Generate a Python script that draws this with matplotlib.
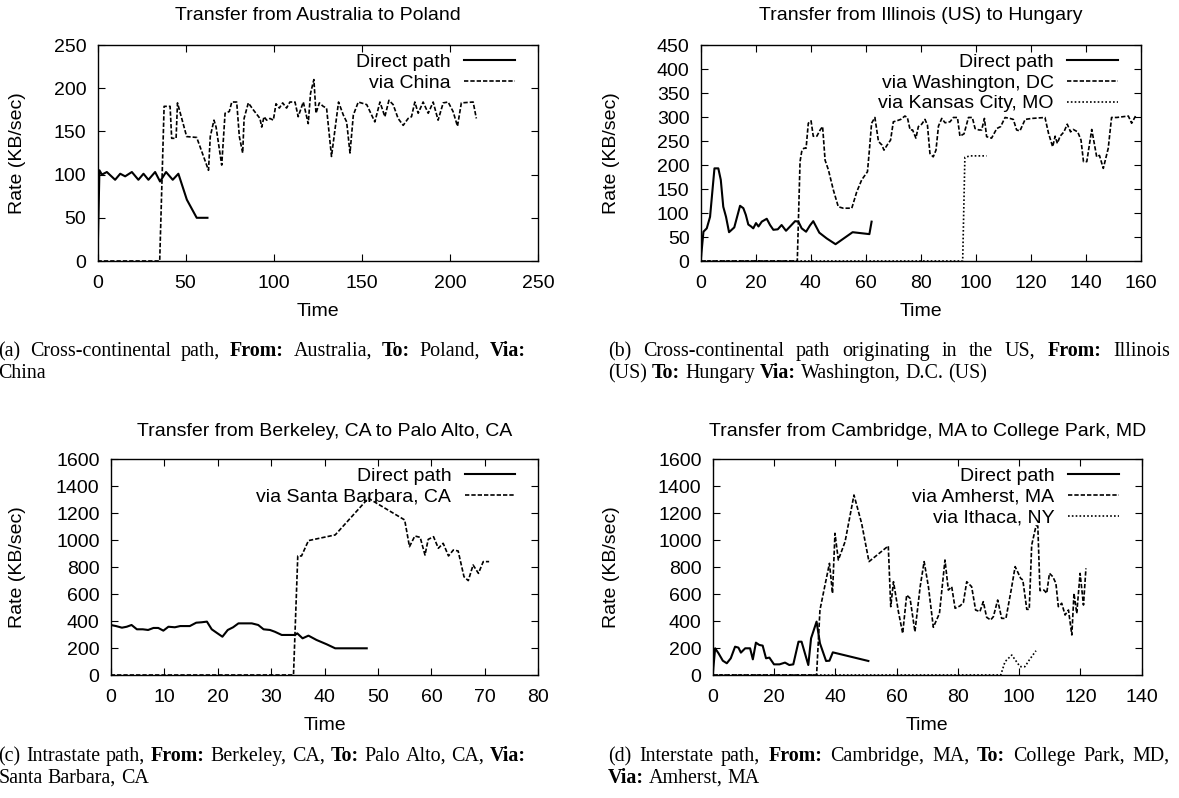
import matplotlib
matplotlib.use('Agg')
import matplotlib.pyplot as plt
from matplotlib.transforms import IdentityTransform

# ---------------- data ----------------
# (a) Australia -> Poland
a_direct_t = [0, 1.1, 2.5, 5.3, 10, 12.9, 15.7, 19.5, 23.2, 26.1, 28.9, 32.7, 35.5, 38.9, 42.7, 45.9, 50.7, 56.3, 62.4]
a_direct_r = [0, 105, 100, 103, 94, 101, 98, 103, 94, 101, 94, 103, 92, 103, 94, 101, 71, 50, 50]
a_china_t = [0, 35.3, 37.8, 41.2, 42.1, 44.6, 45.4, 50.6, 56.3, 63.0, 64.0, 66.1, 67.3, 70.5, 72.4, 74.8, 76.2, 79.0,
             80.5, 82.4, 83.2, 85.6, 88.4, 92.2, 93.2, 94.5, 96.0, 97.9, 99.8, 101.3, 103.2, 105.1, 107.3, 109.2,
             112.1, 113.9, 116.8, 119.6, 120.9, 122.8, 124.0, 125.9, 128.1, 130.0, 132.8, 136.8, 139.5, 141.4,
             143.3, 145.2, 148.0, 152.8, 157.4, 160.3, 163.1, 165.4, 167.8, 170.6, 173.5, 176.3, 178.2, 180.1,
             182.0, 184.8, 187.7, 190.5, 193.3, 196.2, 199.0, 201.8, 204.3, 206.5, 213.2, 215.0]
a_china_r = [0, 0, 179, 179, 142, 142, 183, 144, 143, 105, 144, 163, 155, 111, 171, 173, 184, 184,
             144, 125, 165, 183, 175, 165, 155, 167, 163, 165, 163, 182, 177, 183, 177, 184,
             184, 167, 184, 159, 194, 210, 171, 183, 179, 177, 121, 184, 169, 161,
             125, 169, 184, 181, 161, 184, 167, 186, 181, 165, 157, 165, 167, 184,
             171, 184, 171, 184, 163, 183, 184, 173, 156, 183, 184, 165]

# (b) Illinois -> Hungary
b_direct_t = [0, 1.0, 2.2, 3.4, 5.0, 6.4, 7.3, 8.2, 9.2, 10.3, 12.2, 14.3, 15.5, 16.4, 17.3, 18.3, 19.1, 20.1,
              21.0, 22.2, 24.0, 25.2, 26.4, 28.0, 29.4, 31.0, 32.5, 34.3, 35.5, 36.7, 38.3, 39.7, 40.9, 43.1,
              45.8, 49.0, 55.2, 61.3, 62.1]
b_direct_r = [0, 61, 68, 92, 193, 193, 169, 113, 92, 60, 70, 115, 110, 96, 76, 72, 68, 79,
              72, 82, 88, 75, 65, 66, 75, 63, 72, 83, 82, 68, 61, 74, 83, 59,
              47, 35, 60, 56, 82]
b_dc_t = [0, 35.1, 36.1, 36.7, 37.5, 38.3, 39.1, 40.1, 40.9, 42.2, 43.4, 44.3, 45.2, 46.4, 48.2, 50.0, 51.8,
          54.9, 56.7, 58.5, 60.6, 61.3, 62.1, 63.3, 64.6, 65.8, 66.6, 67.8, 69.0, 70.0, 71.2, 72.7, 74.2,
          75.1, 76.1, 77.0, 78.2, 79.1, 80.3, 81.5, 82.4, 83.3, 84.5, 85.5, 86.4, 87.6, 88.8, 90.6, 91.8,
          93.3, 94.2, 95.7, 97.3, 98.7, 99.7, 101.1, 102.1, 103.1, 103.9, 105.7, 107.6, 109.0, 110.6, 112.4,
          113.6, 114.8, 116.0, 117.9, 120.3, 125.1, 126.4, 127.9, 128.8, 129.6, 130.6, 132.0, 133.2, 134.4,
          135.4, 137.0, 138.2, 139.1, 140.3, 142.1, 143.9, 144.9, 146.3, 148.1, 149.3, 151.2, 155.4, 156.6, 158.2]
b_dc_r = [0, 0, 207, 228, 235, 235, 287, 292, 260, 260, 273, 280, 210, 190, 148, 113, 110,
          110, 144, 169, 186, 231, 287, 299, 249, 242, 231, 242, 252, 290, 292, 295, 302,
          299, 273, 273, 256, 280, 285, 295, 283, 224, 217, 231, 281, 297, 288, 290, 299,
          299, 260, 265, 299, 299, 276, 273, 273, 297, 259, 256, 276, 280, 299, 297,
          295, 273, 271, 295, 297, 299, 266, 238, 260, 245, 260, 269, 285, 269,
          274, 269, 252, 207, 207, 274, 217, 220, 193, 235, 299, 299, 302, 287, 304]
b_kc_t = [0, 95.2, 96.0, 97.9, 103.9]
b_kc_r = [0, 0, 216, 219, 219]

# (c) Berkeley -> Palo Alto
c_direct_t = [0, 1.0, 2.1, 3.0, 3.9, 4.9, 6.0, 7.0, 8.0, 8.9, 9.85, 10.8, 12.0, 13.0, 13.9, 14.8, 16.0, 17.0,
              18.0, 18.9, 19.8, 20.9, 21.9, 22.9, 23.9, 25.1, 26.4, 27.6, 28.6, 29.8, 30.7, 32.0, 33.2, 34.5,
              34.9, 35.9, 37.0, 38.5, 40.4, 42.0, 44.8, 47.9]
c_direct_r = [371, 363, 351, 358, 371, 339, 339, 334, 349, 349, 329, 358, 354, 363, 363, 363, 388, 391,
              396, 339, 314, 284, 334, 354, 383, 383, 383, 371, 339, 334, 321, 297, 297, 297,
              309, 272, 292, 260, 228, 198, 198, 198]
c_sb_t = [0, 34.2, 35.0, 35.7, 37.0, 42.0, 48.2, 55.0, 55.9, 56.9, 57.9, 58.8, 59.4, 60.4, 61.3, 62.2,
          63.2, 64.1, 65.0, 66.1, 66.9, 67.8, 68.8, 69.7, 70.8]
c_sb_r = [0, 0, 883, 883, 997, 1039, 1311, 1150, 952, 1031, 1021, 890, 1006, 1026, 940, 977,
          883, 927, 920, 729, 700, 816, 754, 841, 841]

# (d) Cambridge -> College Park
d_direct_t = [0, 0.8, 1.9, 3.3, 4.6, 5.9, 7.3, 8.4, 9.2, 10.6, 12.2, 13.1, 14.1, 15.2, 16.3, 17.4, 18.5, 20.0,
              21.8, 23.6, 25.0, 26.3, 28.0, 29.0, 31.2, 32.1, 33.9, 35.0, 37.0, 38.1, 39.2, 50.8]
d_direct_r = [0, 198, 161, 106, 87, 124, 210, 203, 166, 198, 198, 116, 240, 223, 218, 124, 129, 79,
              79, 92, 74, 79, 247, 247, 74, 272, 396, 235, 104, 106, 168, 104]
d_amh_t = [0, 33.9, 35.0, 36.1, 38.1, 39.1, 39.9, 41.0, 43.2, 46.1, 48.6, 51.0, 57.3, 58.1, 59.0, 60.6, 62.0,
           63.3, 64.4, 66.0, 67.7, 69.0, 70.4, 72.0, 74.0, 75.8, 76.9, 78.0, 79.1, 80.7, 81.8, 82.9, 84.5,
           85.8, 87.2, 88.3, 89.4, 90.7, 91.6, 93.0, 94.3, 95.7, 97.4, 98.7, 100.5, 101.2, 102.5, 103.3,
           104.1, 105.5, 106.1, 106.8, 108.1, 109.0, 109.9, 111.0, 112.0, 112.8, 113.9, 115.0, 116.1, 117.2,
           117.9, 118.8, 119.9, 121.0, 121.8]
d_amh_r = [0, 0, 482, 606, 828, 606, 1051, 853, 989, 1335, 1125, 841, 957, 507, 692, 470, 309,
           593, 569, 321, 655, 841, 655, 354, 457, 853, 630, 655, 495, 512, 537, 692, 655,
           482, 470, 544, 428, 408, 433, 556, 420, 420, 630, 804, 717, 705, 487, 487,
           964, 1105, 1105, 626, 630, 606, 754, 729, 680, 507, 532, 445, 482, 297,
           606, 457, 754, 519, 791]
d_ith_t = [0, 94.0, 95.4, 97.6, 100.3, 101.9, 103.3, 105.5]
d_ith_r = [0, 0, 99, 148, 62, 62, 111, 180]

titles = ["Transfer from Australia to Poland",
          "Transfer from Illinois (US) to Hungary",
          "Transfer from Berkeley, CA to Palo Alto, CA",
          "Transfer from Cambridge, MA to College Park, MD"]
xticks_list = [list(range(0, 251, 50)), list(range(0, 161, 20)),
               list(range(0, 81, 10)), list(range(0, 141, 20))]
yticks_list = [list(range(0, 251, 50)), list(range(0, 451, 50)),
               list(range(0, 1601, 200)), list(range(0, 1601, 200))]

captions = [
    [[("(a)", 0), ("Cross-continental", 0), ("path,", 0), ("From:", 1), ("Australia,", 0),
      ("To:", 1), ("Poland,", 0), ("Via:", 1)],
     [("China", 0)]],
    [[("(b)", 0), ("Cross-continental", 0), ("path", 0), ("originating", 0), ("in", 0), ("the", 0),
      ("US,", 0), ("From:", 1), ("Illinois", 0)],
     [("(US)", 0), ("To:", 1), ("Hungary", 0), ("Via:", 1), ("Washington,", 0), ("D.C.", 0), ("(US)", 0)]],
    [[("(c)", 0), ("Intrastate", 0), ("path,", 0), ("From:", 1), ("Berkeley,", 0), ("CA,", 0),
      ("To:", 1), ("Palo", 0), ("Alto,", 0), ("CA,", 0), ("Via:", 1)],
     [("Santa", 0), ("Barbara,", 0), ("CA", 0)]],
    [[("(d)", 0), ("Interstate", 0), ("path,", 0), ("From:", 1), ("Cambridge,", 0), ("MA,", 0),
      ("To:", 1), ("College", 0), ("Park,", 0), ("MD,", 0)],
     [("Via:", 1), ("Amherst,", 0), ("MA", 0)]],
]

# ---------------- layout ----------------
W, H = 1179, 798
fig = plt.figure(figsize=(W / 100, H / 100), dpi=100)
SANS = 'Liberation Sans'
SERIF = 'Liberation Serif'
FS = 14
PIX = IdentityTransform()

def yy(y):
    return H - y

def add_ax(l, r, t, b):
    return fig.add_axes([l / W, 1 - b / H, (r - l) / W, (b - t) / H])

boxes = [(97.5, 538, 45, 261), (700.7, 1141, 45, 261),
         (110.7, 538.3, 459.3, 675), (712.7, 1141.7, 459.3, 675)]
title_y = [15, 15, 432, 432]
ylabel_x = [18, 612, 18, 612]

SOLID = dict(color='black', lw=1.5, linestyle='-')
DASH = dict(color='black', lw=1.2, linestyle=(0, (2.6, 1.2)))
DOT = dict(color='black', lw=1.2, linestyle=(0, (1.0, 1.3)))

series = [
    [(a_direct_t, a_direct_r, "Direct path", SOLID), (a_china_t, a_china_r, "via China", DASH)],
    [(b_direct_t, b_direct_r, "Direct path", SOLID), (b_dc_t, b_dc_r, "via Washington, DC", DASH),
     (b_kc_t, b_kc_r, "via Kansas City, MO", DOT)],
    [(c_direct_t, c_direct_r, "Direct path", SOLID), (c_sb_t, c_sb_r, "via Santa Barbara, CA", DASH)],
    [(d_direct_t, d_direct_r, "Direct path", SOLID), (d_amh_t, d_amh_r, "via Amherst, MA", DASH),
     (d_ith_t, d_ith_r, "via Ithaca, NY", DOT)],
]

for i in range(4):
    l, r, t, b = boxes[i]
    ax = add_ax(l, r, t, b)
    for (tt, rr, lab, st) in series[i]:
        ax.plot(tt, rr, label=lab, **st)
    xt, ytk = xticks_list[i], yticks_list[i]
    ax.set_xlim(xt[0], xt[-1])
    ax.set_ylim(ytk[0], ytk[-1])
    ax.set_xticks(xt)
    ax.set_yticks(ytk)
    ax.tick_params(direction='in', length=5, width=0.8, top=True, right=True, labelsize=FS)
    ax.tick_params(axis='x', pad=10)
    ax.tick_params(axis='y', pad=8)
    for lb in ax.get_xticklabels() + ax.get_yticklabels():
        lb.set_fontfamily(SANS)
    for sp in ax.spines.values():
        sp.set_linewidth(1.0)
    ax.legend(loc='upper right', bbox_to_anchor=(1 - 23 / (r - l), 1 - 8 / (b - t)),
              frameon=False, markerfirst=False, borderaxespad=0, borderpad=0,
              handlelength=2.6, handletextpad=0.7, labelspacing=0.17,
              prop={'family': SANS, 'size': FS})
    fig.text((l + r) / 2, yy(title_y[i]), titles[i], transform=PIX, ha='center', va='center',
             fontfamily=SANS, fontsize=FS)
    fig.text(ylabel_x[i], yy((t + b) / 2), "Rate (KB/sec)", transform=PIX, ha='center',
             va='center', rotation=90, fontfamily=SANS, fontsize=FS)
    fig.text((l + r) / 2, yy(b + 51), "Time", transform=PIX, ha='center', va='center',
             fontfamily=SANS, fontsize=FS)

# ---------------- captions (justified) ----------------
renderer = fig.canvas.get_renderer()
CFS = 14.4

def draw_line(words, x0, x1, ybase, justify):
    objs, widths = [], []
    for w, bold in words:
        o = fig.text(0, 0, w, transform=PIX, ha='left', va='baseline', fontfamily=SERIF,
                     fontsize=CFS, fontweight='bold' if bold else 'normal')
        objs.append(o)
        widths.append(o.get_window_extent(renderer).width)
    space = CFS * 100 / 72 * 0.25
    if justify and len(words) > 1:
        space = (x1 - x0 - sum(widths)) / (len(words) - 1)
    x = x0
    for o, wd in zip(objs, widths):
        o.set_position((x, yy(ybase)))
        x += wd + space

cap_x = [(-1.5, 526), (608, 1170), (-1.5, 526), (608, 1170)]
cap_y = [356, 356, 761, 761]
for i in range(4):
    x0, x1 = cap_x[i]
    l1, l2 = captions[i]
    draw_line(l1, x0, x1, cap_y[i], True)
    draw_line(l2, x0, x1, cap_y[i] + 22, False)

fig.savefig('out.png', dpi=100)
